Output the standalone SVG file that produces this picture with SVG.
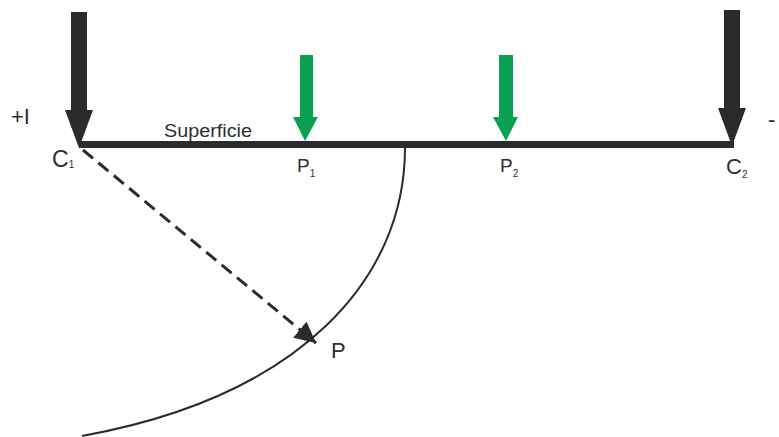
<svg xmlns="http://www.w3.org/2000/svg" width="779" height="437" viewBox="0 0 779 437">
<defs>
<style>
.t{font-family:"Liberation Sans",Arial,sans-serif;fill:#2e2e2e}
.dark{fill:#2b2b2b}
.green{fill:#0aa052}
</style>
<marker id="ah" viewBox="0 0 10 10" refX="10" refY="5" markerWidth="7" markerHeight="7" markerUnits="strokeWidth" orient="auto">
<path d="M0,0 L10,5 L0,10 z" fill="#2b2b2b"/>
</marker>
</defs>
<rect width="779" height="437" fill="#ffffff"/>
<g id="surface">
<rect x="79" y="141" width="655" height="7" class="dark"/>
</g>
<g id="arrow-c1">
<polygon class="dark" points="71,12 87,12 87,110 93,110 79,148 65,110 71,110"/>
</g>
<g id="arrow-c2">
<polygon class="dark" points="724,10 740,10 740,108 746,108 732,146 718,108 724,108"/>
</g>
<g id="arrow-p1">
<polygon class="green" points="300,55 313,55 313,117 318,117 305,141 293,117 300,117"/>
</g>
<g id="arrow-p2">
<polygon class="green" points="499,55 513,55 513,117 518,117 506,141 493,117 499,117"/>
</g>
<g id="connectors">
<path d="M405,148 C405,278 302,396 82,436" fill="none" stroke="#2b2b2b" stroke-width="2"/>
<line x1="83" y1="150" x2="316" y2="343" stroke="#2b2b2b" stroke-width="3" stroke-dasharray="13,7" marker-end="url(#ah)"/>
</g>
<g id="labels">
<text class="t" x="11" y="124" font-size="22">+I</text>
<text class="t" x="768" y="127" font-size="22">-</text>
<text class="t" x="164" y="137" font-size="18" textLength="88" lengthAdjust="spacingAndGlyphs">Superficie</text>
<text class="t" x="52" y="167" font-size="23">C<tspan font-size="10" dy="1">1</tspan></text>
<text class="t" x="726" y="174" font-size="22">C<tspan font-size="10" dy="4">2</tspan></text>
<text class="t" x="297" y="172" font-size="19">P<tspan font-size="10" dy="5">1</tspan></text>
<text class="t" x="500" y="172" font-size="19">P<tspan font-size="10" dy="5">2</tspan></text>
<text class="t" x="331" y="358" font-size="22">P</text>
</g>
</svg>
